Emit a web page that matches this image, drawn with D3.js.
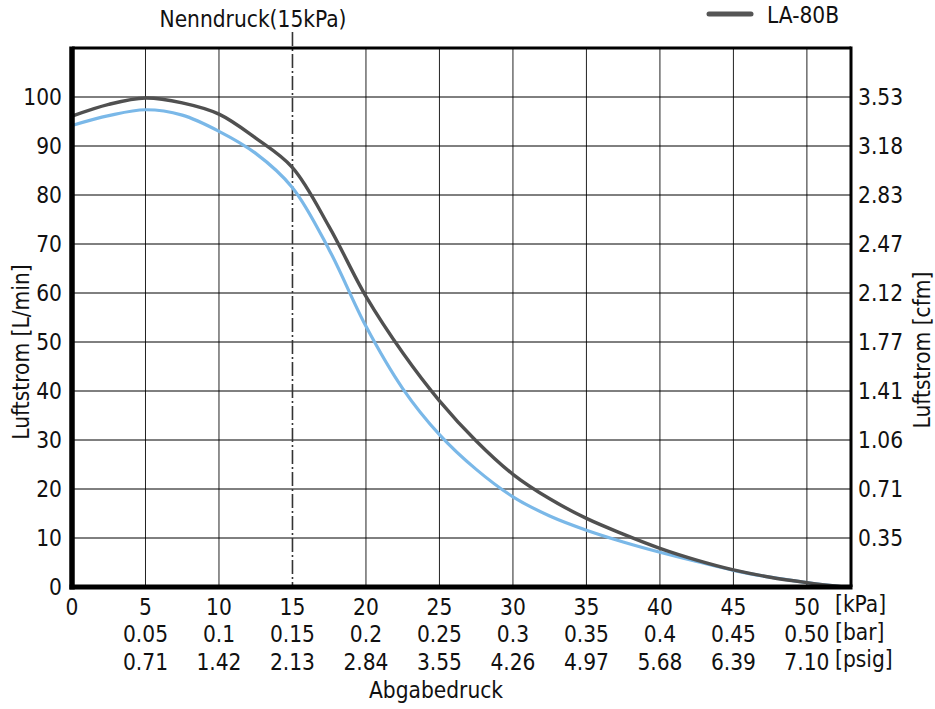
<!DOCTYPE html>
<html>
<head>
<meta charset="utf-8">
<script src="https://cdn.jsdelivr.net/npm/d3@7"></script>
<style>
  html, body { margin: 0; padding: 0; background: #fff; }
  svg { display: block; }
  text { font-family: "DejaVu Sans Condensed", "DejaVu Sans", sans-serif; font-stretch: condensed; fill: #111; }
</style>
</head>
<body>
<svg id="chart" width="935" height="709"></svg>
<script>
// ---- data ----
const pressureKPa = [0, 2.5, 5, 7.5, 10, 12.5, 15, 17.5, 20, 22.5, 25, 27.5, 30, 32.5, 35, 37.5, 40, 42.5, 45, 47.5, 50, 52.5];
const flowLA80B   = [96.1, 98.5, 99.8, 98.8, 96.5, 91.6, 85.6, 73.5, 59.3, 47.8, 38.0, 29.8, 23.0, 18.0, 14.0, 10.8, 7.9, 5.5, 3.5, 2.0, 0.9, 0];
const flowBlue    = [94.2, 96.2, 97.4, 96.3, 93.0, 88.5, 81.5, 68.8, 53.2, 40.5, 31.1, 24.0, 18.4, 14.5, 11.6, 9.2, 7.1, 5.2, 3.4, 2.0, 0.9, 0];
const kPaTicks  = [0, 5, 10, 15, 20, 25, 30, 35, 40, 45, 50];
const barLabels = ["", "0.05", "0.1", "0.15", "0.2", "0.25", "0.3", "0.35", "0.4", "0.45", "0.50"];
const psigLabels= ["", "0.71", "1.42", "2.13", "2.84", "3.55", "4.26", "4.97", "5.68", "6.39", "7.10"];
const flowTicks = [0, 10, 20, 30, 40, 50, 60, 70, 80, 90, 100];
const cfmLabels = ["", "0.35", "0.71", "1.06", "1.41", "1.77", "2.12", "2.47", "2.83", "3.18", "3.53"];
const ratedPressure = 15;
const seriesName = "LA-80B";

// ---- layout ----
const svg = d3.select("#chart");
const x = d3.scaleLinear().domain([0, 53]).range([72, 851]);
const y = d3.scaleLinear().domain([0, 110]).range([587, 48]);
const fs = 22.5;

// grid - vertical
svg.append("g").selectAll("line").data(kPaTicks.slice(1)).join("line")
  .attr("x1", d => x(d)).attr("x2", d => x(d))
  .attr("y1", y(110)).attr("y2", y(0))
  .attr("stroke", d => d === ratedPressure ? "none" : "#222").attr("stroke-width", 1);
// grid - horizontal
svg.append("g").selectAll("line").data(flowTicks.slice(1)).join("line")
  .attr("x1", x(0)).attr("x2", x(53))
  .attr("y1", d => y(d)).attr("y2", d => y(d))
  .attr("stroke", "#000").attr("stroke-width", 1);

// rated pressure dash-dot line
svg.append("line")
  .attr("x1", x(ratedPressure)).attr("x2", x(ratedPressure))
  .attr("y1", 32).attr("y2", y(0))
  .attr("stroke", "#333").attr("stroke-width", 1.6)
  .attr("stroke-dasharray", "14,3,2,3");

svg.append("text")
  .attr("x", 253).attr("y", 27)
  .attr("text-anchor", "middle").attr("font-size", fs)
  .text("Nenndruck(15kPa)");

// curves
const line = d3.line().x((d, i) => x(pressureKPa[i])).y(d => y(d)).curve(d3.curveCatmullRom.alpha(0.5));
svg.append("path").attr("d", line(flowBlue))
  .attr("fill", "none").attr("stroke", "#7ab8e8").attr("stroke-width", 3.2);
svg.append("path").attr("d", line(flowLA80B))
  .attr("fill", "none").attr("stroke", "#505050").attr("stroke-width", 3.4);

// frame
svg.append("line").attr("x1", x(0)).attr("x2", x(53)).attr("y1", y(110)).attr("y2", y(110))
  .attr("stroke", "#000").attr("stroke-width", 3);
svg.append("line").attr("x1", x(53)).attr("x2", x(53)).attr("y1", y(110) - 1.5).attr("y2", y(0))
  .attr("stroke", "#000").attr("stroke-width", 3);
svg.append("line").attr("x1", x(0)).attr("x2", x(0)).attr("y1", y(110) - 1.5).attr("y2", y(0) + 2.5)
  .attr("stroke", "#000").attr("stroke-width", 5.5);
svg.append("line").attr("x1", x(0) - 2.5).attr("x2", x(53) + 1.5).attr("y1", y(0)).attr("y2", y(0))
  .attr("stroke", "#000").attr("stroke-width", 5);

// left axis labels
svg.append("g").selectAll("text").data(flowTicks).join("text")
  .attr("x", 62).attr("y", d => y(d) + 8)
  .attr("text-anchor", "end").attr("font-size", fs)
  .text(d => d);
// right axis labels
svg.append("g").selectAll("text").data(flowTicks).join("text")
  .attr("x", 858).attr("y", d => y(d) + 8)
  .attr("text-anchor", "start").attr("font-size", fs)
  .text((d, i) => cfmLabels[i]);

// bottom labels
svg.append("g").selectAll("text").data(kPaTicks).join("text")
  .attr("x", d => x(d)).attr("y", 615)
  .attr("text-anchor", "middle").attr("font-size", fs).text(d => d);
svg.append("g").selectAll("text").data(kPaTicks).join("text")
  .attr("x", d => x(d)).attr("y", 642)
  .attr("text-anchor", "middle").attr("font-size", fs).text((d, i) => barLabels[i]);
svg.append("g").selectAll("text").data(kPaTicks).join("text")
  .attr("x", d => x(d)).attr("y", 670)
  .attr("text-anchor", "middle").attr("font-size", fs).text((d, i) => psigLabels[i]);

const units = ["[kPa]", "[bar]", "[psig]"];
svg.append("g").selectAll("text").data(units).join("text")
  .attr("x", 835).attr("y", (d, i) => 612 + i * 27.5)
  .attr("font-size", fs).text(d => d);

svg.append("text").attr("x", 436).attr("y", 698)
  .attr("text-anchor", "middle").attr("font-size", fs).text("Abgabedruck");

svg.append("text").attr("transform", "translate(29,352) rotate(-90)")
  .attr("text-anchor", "middle").attr("font-size", fs).text("Luftstrom [L/min]");
svg.append("text").attr("transform", "translate(930,350) rotate(-90)")
  .attr("text-anchor", "middle").attr("font-size", fs).text("Luftstrom [cfm]");

// legend
svg.append("line").attr("x1", 709).attr("x2", 751).attr("y1", 14).attr("y2", 14)
  .attr("stroke", "#555").attr("stroke-width", 5).attr("stroke-linecap", "round");
svg.append("text").attr("x", 767).attr("y", 23).attr("font-size", fs).text(seriesName);
</script>
</body>
</html>
